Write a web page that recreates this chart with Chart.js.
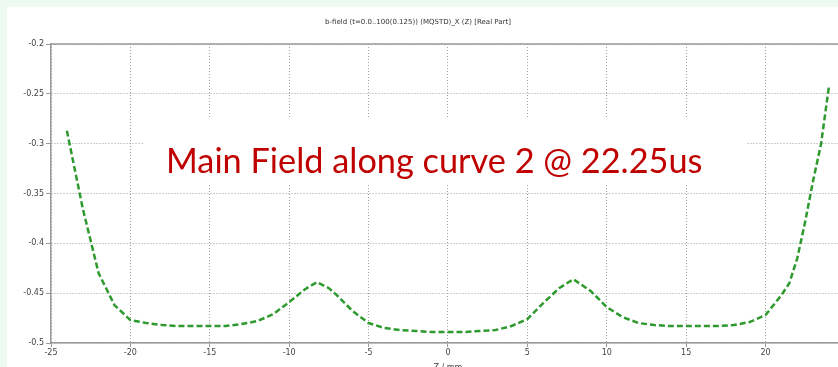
<!DOCTYPE html>
<html>
<head>
<meta charset="utf-8">
<script src="https://cdn.jsdelivr.net/npm/chart.js@4.4.1/dist/chart.umd.min.js"></script>
<style>
    html, body { margin: 0; padding: 0; overflow: hidden; background: #eff9f3; }
    #frame { position: absolute; left: 7px; top: 7px; width: 900px; height: 400px; background: #ffffff; }
    #chart { position: absolute; left: -7px; top: -7px; width: 851px; height: 373px; }
</style>
</head>
<body>
<div id="frame"><div id="chart"><canvas id="myChart"></canvas></div></div>
<script>
const CHART_TITLE = "b-field (t=0.0..100(0.125)) (MQSTD)_X (Z) [Real Part]";
const NOTE_TEXT = "Main Field along curve 2 @ 22.25us";
const X_TITLE = "Z / mm";

const X_TICKS = [-25, -20, -15, -10, -5, 0, 5, 10, 15, 20, 25];
const Y_TICKS = [-0.5, -0.45, -0.4, -0.35, -0.3, -0.25, -0.2];

// Z position (mm) and field value
const zValues = [
    -24, -23, -22, -21, -20, -19, -18, -17, -16, -15, -14, -13, -12, -11, -10, -9,
    -8.25, -7.5, -7, -6, -5, -4, -3, -2, -1, 0, 1, 2, 3, 4, 5, 6, 7, 7.9,
    9, 10, 11, 12, 13, 14, 15, 16, 17, 18, 19, 20, 21, 21.5, 22, 22.5, 23, 23.5, 24
];
const fieldValues = [
    -0.287, -0.365, -0.430, -0.462, -0.477, -0.480, -0.482, -0.483, -0.483, -0.483, -0.483, -0.481, -0.478, -0.471, -0.459, -0.446,
    -0.439, -0.445, -0.452, -0.468, -0.480, -0.485, -0.487, -0.488, -0.489, -0.489, -0.489, -0.488, -0.487, -0.483, -0.476, -0.460, -0.445, -0.436,
    -0.448, -0.464, -0.474, -0.480, -0.482, -0.483, -0.483, -0.483, -0.483, -0.482, -0.479, -0.472, -0.452, -0.440, -0.415, -0.378, -0.337, -0.300, -0.242
];

const LINE_COLOR = "#2e9a2e";
const GRID_COLOR = "#a0a0a0";
const AXIS_COLOR = "#9a9a9a";
const TICK_FONT = { family: "DejaVu Sans", size: 8 };

const points = zValues.map((z, i) => ({ x: z, y: fieldValues[i] }));

// Draws the plot title, the top border line and the boxed note
const extras = {
    id: 'extras',
    beforeDatasetsDraw(chart) {
        const ctx = chart.ctx;
        const area = chart.chartArea;
        ctx.save();
        // top border of the plot box
        ctx.strokeStyle = AXIS_COLOR;
        ctx.lineWidth = 1.5;
        ctx.beginPath();
        ctx.moveTo(area.left, area.top);
        ctx.lineTo(area.right, area.top);
        ctx.stroke();

        // title
        ctx.fillStyle = "#333";
        ctx.font = "7px 'DejaVu Sans'";
        ctx.textAlign = "center";
        ctx.textBaseline = "middle";
        ctx.fillText(CHART_TITLE, 418, 22);

        // note box hides the grid behind it
        ctx.fillStyle = "#ffffff";
        ctx.fillRect(143, 117, 604, 66);
        ctx.fillStyle = "#c00000";
        ctx.font = "34.3px Lato";
        ctx.textAlign = "left";
        ctx.textBaseline = "alphabetic";
        ctx.fillText(NOTE_TEXT, 166, 173);
        ctx.restore();
    }
};

const chart = new Chart(document.getElementById("myChart"), {
    type: "line",
    data: {
        datasets: [
            {
                label: 'b-field',
                data: points,
                fill: false,
                borderColor: LINE_COLOR,
                borderWidth: 2.5,
                borderDash: [6, 3],
                pointRadius: 0,
                tension: 0
            }
        ]
    },
    plugins: [extras],
    options: {
        responsive: true,
        maintainAspectRatio: false,
        animation: false,
        layout: {
            padding: { left: 0, right: 0, top: 44, bottom: 0 }
        },
        scales: {
            x: {
                type: 'linear',
                min: -25,
                max: 25,
                afterBuildTicks: (axis) => { axis.ticks = X_TICKS.map(v => ({ value: v })); },
                afterFit: (axis) => { axis.height = 30; },
                ticks: {
                    font: TICK_FONT,
                    color: "#444",
                    padding: 1,
                    maxRotation: 0,
                    autoSkip: false,
                },
                grid: {
                    color: GRID_COLOR,
                    lineWidth: 1,
                    tickLength: 4,
                    tickBorderDash: [],
                    tickColor: AXIS_COLOR,
                },
                border: { color: AXIS_COLOR, width: 1.5, dash: [1, 2] },
                title: {
                    display: true,
                    text: X_TITLE,
                    font: TICK_FONT,
                    color: "#444",
                    padding: { top: 0, bottom: 0 },
                },
            },
            y: {
                min: -0.5,
                max: -0.2,
                afterBuildTicks: (axis) => { axis.ticks = Y_TICKS.map(v => ({ value: v })); },
                afterFit: (axis) => { axis.width = 51; },
                ticks: {
                    font: TICK_FONT,
                    color: "#444",
                    padding: 2,
                    callback: (v) => String(Math.round(v * 100) / 100),
                },
                grid: {
                    color: GRID_COLOR,
                    lineWidth: 1,
                    tickLength: 5,
                    tickColor: AXIS_COLOR,
                },
                border: { color: AXIS_COLOR, width: 1.5, dash: [1, 2] },
            },
        },
        plugins: {
            title: { display: false },
            legend: { display: false },
            tooltip: { enabled: false },
        },
    }
});
</script>
</body>
</html>
